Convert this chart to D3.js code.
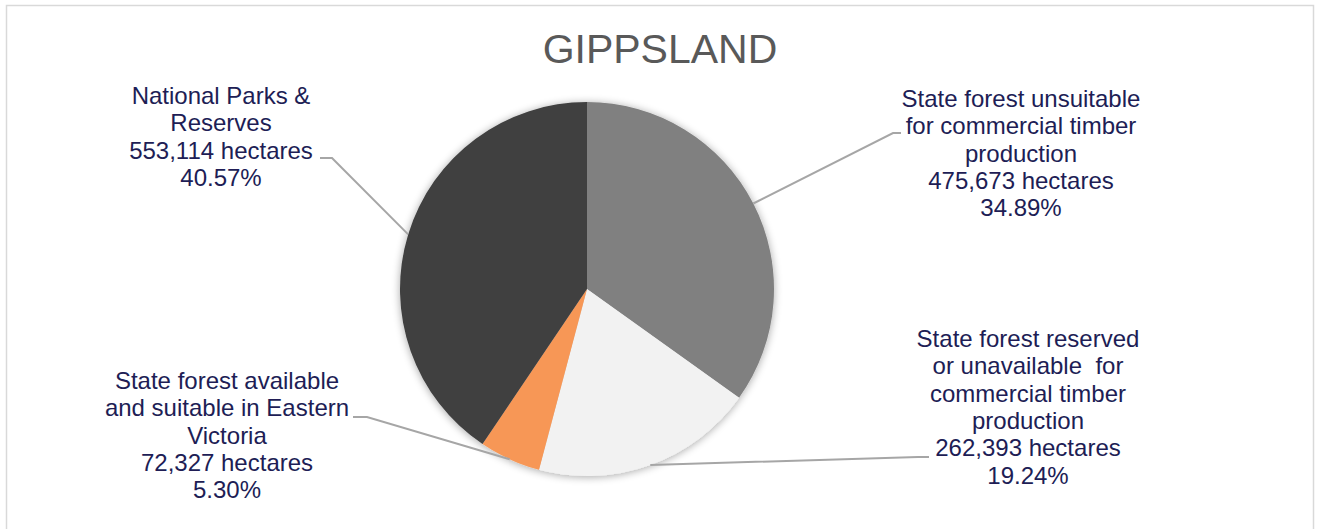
<!DOCTYPE html>
<html>
<head>
<meta charset="utf-8">
<script src="https://cdn.jsdelivr.net/npm/d3@7"></script>
<style>
  html, body { margin: 0; padding: 0; background: #ffffff; }
  svg { display: block; }
</style>
</head>
<body>
<svg id="chart" width="1321" height="529"></svg>
<script>
// ---- DATA ----
const title = "GIPPSLAND";
const categories = [
  "State forest unsuitable for commercial timber production",
  "State forest reserved or unavailable for commercial timber production",
  "State forest available and suitable in Eastern Victoria",
  "National Parks & Reserves"
];
const hectares = [475673, 262393, 72327, 553114];
const labelLines = [
  ["State forest unsuitable", "for commercial timber", "production"],
  ["State forest reserved", "or unavailable  for", "commercial timber", "production"],
  ["State forest available", "and suitable in Eastern", "Victoria"],
  ["National Parks &", "Reserves"]
];
const colors = ["#808080", "#f2f2f2", "#f79756", "#404040"];

// ---- LAYOUT ----
const W = 1321, H = 529;
const cx = 587, cy = 289, r = 187;
const fontSize = 24, lineH = 27.3;
const textColor = "#201d55";
// label block layout: center x, first baseline y, leader anchor points
const labelLayout = [
  { x: 1021, y: 107, leader: [[893, 133], [901, 133]] },
  { x: 1028, y: 347, leader: [[918, 457], [929, 457]] },
  { x: 227,  y: 389, leader: [[367, 417], [353, 417]] },
  { x: 221,  y: 104, leader: [[332, 158], [320, 158]] }
];

const svg = d3.select("#chart");

// border
svg.append("rect")
  .attr("x", 6.5).attr("y", 5.5)
  .attr("width", 1307).attr("height", 540)
  .attr("fill", "#ffffff")
  .attr("stroke", "#d9d9d9").attr("stroke-width", 1.5);

// shadow filter
const defs = svg.append("defs");
const f = defs.append("filter").attr("id", "shadow")
  .attr("x", "-20%").attr("y", "-20%").attr("width", "140%").attr("height", "140%");
f.append("feGaussianBlur").attr("in", "SourceAlpha").attr("stdDeviation", 4).attr("result", "blur");
f.append("feOffset").attr("in", "blur").attr("dx", 0).attr("dy", 1).attr("result", "off");
f.append("feComponentTransfer").attr("in", "off").attr("result", "sh")
  .append("feFuncA").attr("type", "linear").attr("slope", 0.35);
const merge = f.append("feMerge");
merge.append("feMergeNode").attr("in", "sh");
merge.append("feMergeNode").attr("in", "SourceGraphic");

// title
svg.append("text")
  .attr("x", 660).attr("y", 63)
  .attr("text-anchor", "middle")
  .attr("font-family", "'Liberation Sans', Arial, sans-serif")
  .attr("font-size", 41)
  .attr("fill", "#595959")
  .text(title);

const total = d3.sum(hectares);
const pie = d3.pie().sort(null).value(d => d)(hectares);
const arc = d3.arc().innerRadius(0).outerRadius(r);

const g = svg.append("g").attr("transform", `translate(${cx},${cy})`);
g.append("g").attr("filter", "url(#shadow)")
  .selectAll("path").data(pie).join("path")
  .attr("d", arc)
  .attr("fill", (d, i) => colors[i]);

// leader lines
const lineGen = d3.line();
pie.forEach((d, i) => {
  const a = (d.startAngle + d.endAngle) / 2;
  const p = [cx + r * Math.sin(a), cy - r * Math.cos(a)];
  const pts = [p].concat(labelLayout[i].leader);
  svg.append("path")
    .attr("d", lineGen(pts))
    .attr("fill", "none")
    .attr("stroke", "#a6a6a6")
    .attr("stroke-width", 2);
});

// labels
const fmt = d3.format(",");
pie.forEach((d, i) => {
  const lines = labelLines[i].concat([
    fmt(hectares[i]) + " hectares",
    (hectares[i] / total * 100).toFixed(2) + "%"
  ]);
  const t = svg.append("text")
    .attr("text-anchor", "middle")
    .attr("font-family", "'Liberation Sans', Arial, sans-serif")
    .attr("font-size", fontSize)
    .attr("fill", textColor)
    .attr("xml:space", "preserve");
  lines.forEach((ln, k) => {
    t.append("tspan")
      .attr("x", labelLayout[i].x)
      .attr("y", labelLayout[i].y + k * lineH)
      .text(ln);
  });
});
</script>
</body>
</html>
